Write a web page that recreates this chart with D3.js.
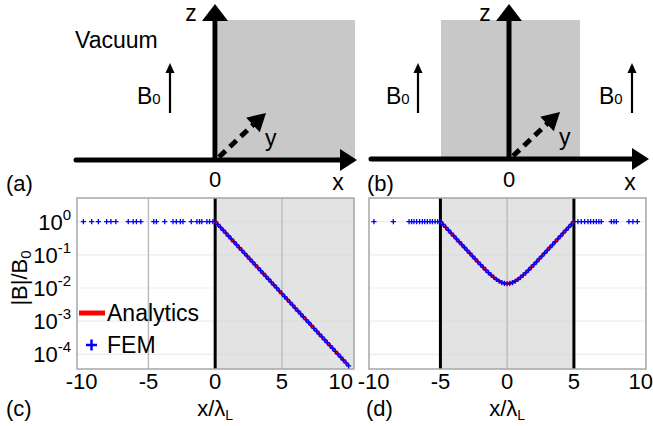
<!DOCTYPE html>
<html><head><meta charset="utf-8">
<script src="https://cdn.jsdelivr.net/npm/d3@7"></script>
<style>
html,body{margin:0;padding:0;background:#fff;}
svg{display:block;font-family:"Liberation Sans",Arial,sans-serif;}
</style></head>
<body><svg id="c" width="653" height="426"></svg>
<script>
// ---------- data ----------
const xTicks = [-10, -5, 0, 5, 10];
const yTickExps = [0, -1, -2, -3, -4];
const legendLabels = ["Analytics", "FEM"];
// (c) analytics: |B|/B0 = exp(-x) inside, straight on log axis
const anaCx = [0, 10];
const anaCy = [1, 0.0000454];
// (c) FEM outside (vacuum, |B|/B0 = 1)
const femCoutX = [-9.87,-9.25,-8.75,-8.13,-7.81,-7.44,-6.51,-6.14,-5.90,-5.57,-4.60,-4.40,-3.78,-3.16,-2.91,-2.61,-2.41,-1.79,-1.37,-1.17,-1.0,-0.62,-0.42,-0.17];
// (c) FEM inside
const femCinX = [0,0.2,0.4,0.6,0.8,1.0,1.2,1.4,1.6,1.8,2.0,2.2,2.4,2.6,2.8,3.0,3.2,3.4,3.6,3.8,4.0,4.2,4.4,4.6,4.8,5.0,5.2,5.4,5.6,5.8,6.0,6.2,6.4,6.6,6.8,7.0,7.2,7.4,7.6,7.8,8.0,8.2,8.4,8.6,8.8,9.0,9.2,9.4,9.6,9.8,10.0];
const femCinY = [1,0.81873,0.67032,0.54881,0.44933,0.36788,0.30119,0.24660,0.20190,0.16530,0.13534,0.11080,0.090718,0.074274,0.060810,0.049787,0.040762,0.033373,0.027324,0.022371,0.018316,0.014996,0.012277,0.010052,0.0082297,0.0067379,0.0055166,0.0045166,0.0036979,0.0030276,0.0024788,0.0020294,0.0016616,0.0013604,0.0011138,0.00091188,0.00074659,0.00061125,0.00050045,0.00040973,0.00033546,0.00027465,0.00022487,0.00018411,0.00015073,0.00012341,0.00010104,0.000082724,0.000067729,0.000055452,0.0000454];
// (d) analytics: cosh(x)/cosh(5)
const anaDx = [-5,-4.5,-4,-3.5,-3,-2.5,-2,-1.5,-1,-0.5,0,0.5,1,1.5,2,2.5,3,3.5,4,4.5,5];
const anaDy = [1,0.60658,0.36799,0.22332,0.13566,0.082634,0.050696,0.031700,0.020794,0.015195,0.013476,0.015195,0.020794,0.031700,0.050696,0.082634,0.13566,0.22332,0.36799,0.60658,1];
// (d) FEM outside
const femDoutX = [-9.98,-8.53,-7.35,-7.16,-6.98,-6.78,-6.56,-6.35,-6.18,-5.98,-5.78,-5.60,-5.40,-5.2,5.30,5.55,5.80,6.05,6.25,6.47,6.68,6.87,7.05,7.80,8.00,8.18,9.12,9.42,9.75];
// (d) FEM inside
const femDinX = [-5.0,-4.8,-4.6,-4.4,-4.2,-4.0,-3.8,-3.6,-3.4,-3.2,-3.0,-2.8,-2.6,-2.4,-2.2,-2.0,-1.8,-1.6,-1.4,-1.2,-1.0,-0.8,-0.6,-0.4,-0.2,0,0.2,0.4,0.6,0.8,1.0,1.2,1.4,1.6,1.8,2.0,2.2,2.4,2.6,2.8,3.0,3.2,3.4,3.6,3.8,4.0,4.2,4.4,4.6,4.8,5.0];
const femDinY = [1,0.81875,0.67036,0.54887,0.44941,0.36799,0.30134,0.24677,0.20211,0.16557,0.13567,0.11121,0.091214,0.074881,0.061554,0.050697,0.041874,0.034732,0.028984,0.024399,0.020794,0.018022,0.015975,0.014568,0.013746,0.013476,0.013746,0.014568,0.015975,0.018022,0.020794,0.024399,0.028984,0.034732,0.041874,0.050697,0.061554,0.074881,0.091214,0.11121,0.13567,0.16557,0.20211,0.24677,0.30134,0.36799,0.44941,0.54887,0.67036,0.81875,1];

// ---------- drawing ----------
const svg = d3.select("#c");
const FONT = 22;

function arrowHead(g, tip, base, half, color) {
  const dx = tip[0]-base[0], dy = tip[1]-base[1];
  const L = Math.hypot(dx, dy), nx = -dy/L, ny = dx/L;
  g.append("path")
    .attr("d", `M${tip[0]},${tip[1]} L${base[0]+nx*half},${base[1]+ny*half} L${base[0]-nx*half},${base[1]-ny*half} Z`)
    .attr("fill", color);
}
function bLabel(g, x, y) {
  const t = g.append("text").attr("x", x).attr("y", y).attr("font-size", 23).attr("fill", "#000");
  t.append("tspan").text("B");
  t.append("tspan").attr("font-size", 15).text("0");
}
function bArrow(g, x) {
  g.append("line").attr("x1", x).attr("x2", x).attr("y1", 113).attr("y2", 70)
    .attr("stroke", "#000").attr("stroke-width", 2.2);
  arrowHead(g, [x, 63], [x, 73], 4.5, "#000");
}
function diagram(g, opt) {
  g.append("rect").attr("x", opt.rx0).attr("y", 20).attr("width", opt.rx1-opt.rx0).attr("height", opt.ay-20)
    .attr("fill", "#c8c8c8");
  g.append("line").attr("x1", opt.hx0).attr("x2", opt.hx1-14).attr("y1", opt.ay).attr("y2", opt.ay)
    .attr("stroke", "#000").attr("stroke-width", 5).attr("stroke-linecap", "round");
  arrowHead(g, [opt.hx1, opt.ay], [opt.hx1-17, opt.ay], 11, "#000");
  g.append("line").attr("x1", opt.vx).attr("x2", opt.vx).attr("y1", opt.ay+2).attr("y2", 20)
    .attr("stroke", "#000").attr("stroke-width", 5);
  arrowHead(g, [opt.vx, 4], [opt.vx, 21], 13, "#000");
  g.append("line").attr("x1", opt.vx+4).attr("y1", opt.ay-3).attr("x2", opt.vx+40).attr("y2", opt.ay-37)
    .attr("stroke", "#000").attr("stroke-width", 5).attr("stroke-dasharray", "9,6");
  arrowHead(g, [opt.vx+51, opt.ay-47], [opt.vx+38, opt.ay-35], 10, "#000");
  g.append("text").attr("x", opt.vx+50).attr("y", opt.ay-14).attr("font-size", 23).text("y");
  g.append("text").attr("x", opt.vx-24).attr("y", 21).attr("font-size", 23).attr("text-anchor", "middle").text("z");
  g.append("text").attr("x", opt.vx).attr("y", 187).attr("font-size", 22).attr("text-anchor", "middle").text("0");
  g.append("text").attr("x", opt.hx1-19).attr("y", 190).attr("font-size", 23).attr("text-anchor", "middle").text("x");
  g.append("text").attr("x", opt.lx).attr("y", 191).attr("font-size", 22).text(opt.label);
}

const gA = svg.append("g");
diagram(gA, {rx0: 218, rx1: 355, ay: 160, hx0: 76, hx1: 357, vx: 215, lx: 6, label: "(a)"});
gA.append("text").attr("x", 75).attr("y", 48).attr("font-size", 23).text("Vacuum");
bLabel(gA, 137, 104); bArrow(gA, 170);

const gB = svg.append("g");
diagram(gB, {rx0: 441, rx1: 580, ay: 159, hx0: 371, hx1: 649, vx: 509, lx: 367, label: "(b)"});
bLabel(gB, 386, 104); bArrow(gB, 418);
bLabel(gB, 599, 104); bArrow(gB, 632);

// ---------- plots ----------
const yScale = d3.scaleLog().domain([Math.pow(10,-4.44), Math.pow(10,0.71)]).range([369, 198]);

function plot(opt) {
  const g = svg.append("g");
  const x = d3.scaleLinear().domain([-10.35, 10.4]).range([opt.x0, opt.x0+277]);
  const [y0, y1] = yScale.range();
  g.append("rect").attr("x", opt.x0).attr("y", y1).attr("width", 277).attr("height", y0-y1).attr("fill", "#fff");
  g.append("rect").attr("x", x(opt.shade[0])).attr("y", y1)
    .attr("width", Math.min(x(opt.shade[1]), opt.x0+277)-x(opt.shade[0])).attr("height", y0-y1).attr("fill", "#e3e3e3");
  g.selectAll(".hg").data(yTickExps).enter().append("line")
    .attr("x1", opt.x0).attr("x2", opt.x0+277)
    .attr("y1", d => yScale(Math.pow(10,d))).attr("y2", d => yScale(Math.pow(10,d)))
    .attr("stroke", "#d6d6d6").attr("stroke-opacity", 0.45).attr("stroke-width", 1.2);
  g.selectAll(".vg").data(opt.grayV).enter().append("line")
    .attr("x1", d => x(d)).attr("x2", d => x(d)).attr("y1", y1).attr("y2", y0)
    .attr("stroke", "#bdbdbd").attr("stroke-width", 1.5);
  g.selectAll(".vb").data(opt.blackV).enter().append("line")
    .attr("x1", d => x(d)).attr("x2", d => x(d)).attr("y1", y1).attr("y2", y0)
    .attr("stroke", "#000").attr("stroke-width", 3);
  g.append("rect").attr("x", opt.x0).attr("y", y1).attr("width", 277).attr("height", y0-y1)
    .attr("fill", "none").attr("stroke", "#a6a6a6").attr("stroke-width", 1.5);
  g.selectAll(".xt").data(xTicks).enter().append("text")
    .attr("x", d => (opt.clampLast && d === xTicks[xTicks.length-1]) ? opt.x0 + 276 : x(d))
    .attr("y", 389)
    .attr("text-anchor", d => (opt.clampLast && d === xTicks[xTicks.length-1]) ? "end" : "middle")
    .attr("font-size", FONT).text(d => d);
  const xt = g.append("text").attr("x", x(0)).attr("y", 416).attr("text-anchor", "middle").attr("font-size", FONT);
  xt.append("tspan").text("x/λ");
  xt.append("tspan").attr("font-size", 14).attr("dy", 4).text("L");
  g.append("text").attr("x", opt.lx).attr("y", 416).attr("font-size", FONT).text(opt.label);
  const line = d3.line().x(d => x(d[0])).y(d => yScale(d[1])).curve(d3.curveMonotoneX);
  g.append("path").datum(opt.anaX.map((v,i) => [v, opt.anaY[i]]))
    .attr("d", line).attr("fill", "none").attr("stroke", "#ff0000").attr("stroke-width", 3);
  const pts = opt.outX.map(v => [v, 1]).concat(opt.inX.map((v,i) => [v, opt.inY[i]]));
  g.selectAll(".fem").data(pts).enter().append("path")
    .attr("d", d => { const px = x(d[0]), py = yScale(d[1]); return `M${px-2.6},${py}H${px+2.6}M${px},${py-2.6}V${py+2.6}`; })
    .attr("stroke", "#0000ff").attr("stroke-width", 1.3).attr("fill", "none");
  return {g, x};
}

plot({x0: 77, shade: [0, 10.4], grayV: [-5, 5], blackV: [0], lx: 6, label: "(c)", clampLast: true,
  anaX: anaCx, anaY: anaCy, outX: femCoutX, inX: femCinX, inY: femCinY});
plot({x0: 369, shade: [-5, 5], grayV: [0], blackV: [-5, 5], lx: 366, label: "(d)", clampLast: false,
  anaX: anaDx, anaY: anaDy, outX: femDoutX, inX: femDinX, inY: femDinY});

const yt = svg.append("g").selectAll("text").data(yTickExps).enter().append("text")
  .attr("x", 71).attr("y", d => yScale(Math.pow(10,d)) + 8).attr("text-anchor", "end").attr("font-size", FONT);
yt.append("tspan").text("10");
yt.append("tspan").attr("font-size", 15).attr("dy", -10).text(d => d);

const ytl = svg.append("text").attr("transform", "translate(27,278) rotate(-90)")
  .attr("text-anchor", "middle").attr("font-size", FONT);
ytl.append("tspan").text("|B|/B");
ytl.append("tspan").attr("font-size", 15).attr("dy", 4).text("0");

const lg = svg.append("g");
lg.append("line").attr("x1", 79).attr("x2", 105).attr("y1", 313).attr("y2", 313)
  .attr("stroke", "#ff0000").attr("stroke-width", 5);
lg.append("text").attr("x", 107).attr("y", 321).attr("font-size", 23).text(legendLabels[0]);
lg.append("path").attr("d", "M86,345H97M91.5,339.5V350.5").attr("stroke", "#0000ff").attr("stroke-width", 2.5);
lg.append("text").attr("x", 107).attr("y", 353).attr("font-size", 23).text(legendLabels[1]);
</script></body></html>
